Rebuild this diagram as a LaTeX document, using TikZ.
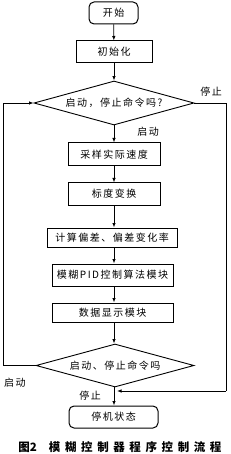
\documentclass[tikz,border=0pt]{standalone}
\usepackage{fontspec}
\setmainfont{Liberation Serif}
\newfontfamily\cjk[LetterSpace=15]{Noto Sans CJK SC}
\newfontfamily\capfont[LetterSpace=40]{Noto Sans CJK SC}
\newfontfamily\capfonttight{Noto Sans CJK SC}
\usetikzlibrary{shapes.geometric,arrows.meta}
\begin{document}
\begin{tikzpicture}[x=1pt,y=-1pt,
  every node/.style={font=\cjk\fontsize{10}{12}\selectfont, inner sep=0pt},
  box/.style={draw, line width=1pt, rectangle},
  rbox/.style={draw, line width=1pt, rectangle, rounded corners=5pt},
  dia/.style={draw, line width=0.9pt, diamond, aspect=3.6, inner sep=0pt},
  line/.style={line width=0.8pt},
  arr/.style={line width=0.8pt, -{Latex[length=4.5pt,width=3.5pt]}},
  lbl/.style={font=\cjk\fontsize{10}{12}\selectfont}]
\useasboundingbox (0,0) rectangle (230,454);
\node[rbox, minimum width=49pt, minimum height=22pt] (start) at (113.5,13) {开始};
\node[box, minimum width=76pt, minimum height=22pt] (init) at (114,52) {初始化};
\node[dia, minimum width=160pt, minimum height=44pt] (d1) at (114,103) {启动，停止命令吗?};
\node[box, minimum width=92pt, minimum height=23pt] (samp) at (114,154.5) {采样实际速度};
\node[box, minimum width=92pt, minimum height=22pt] (cal) at (114,194) {标度变换};
\node[box, minimum width=130pt, minimum height=19pt] (comp) at (112,237.5) {计算偏差、偏差变化率};
\node[box, minimum width=121pt, minimum height=22pt] (pid) at (112.5,275) {模糊PID控制算法模块};
\node[box, minimum width=121pt, minimum height=19pt] (data) at (112.5,312.5) {数据显示模块};
\node[dia, minimum width=158pt, minimum height=43pt] (d2) at (115,365.5) {启动、停止命令吗};
\node[rbox, minimum width=89pt, minimum height=22pt] (stop) at (113.5,417) {停机状态};
\node[font=\capfont\bfseries\fontsize{11.5}{13}\selectfont] (cap) at (120,447) {{\capfonttight\bfseries 图2}\hspace{12pt}模糊控制器程序控制流程};
\coordinate (r1) at (226,103);
\coordinate (r2) at (226,391);
\coordinate (j) at (114,391);
\coordinate (l1) at (3,365.5);
\coordinate (l2) at (3,103);
\draw[arr] (start) -- (init);
\draw[arr] (init) -- (d1);
\draw[arr] (d1.south) -- (samp);
\node[lbl] (ql1) at (148,132) {启动};
\draw[arr] (samp) -- (cal);
\draw[arr] (cal) -- (comp.north -| cal);
\draw[arr] (comp.south -| cal) -- (pid.north -| cal);
\draw[arr] (pid.south -| cal) -- (data.north -| cal);
\draw[arr] (data.south -| cal) -- (d2.north -| cal);
\draw[arr] (d2.south -| cal) -- (stop.north -| cal);
\node[lbl] (ql2) at (90,396) {停止};
\draw[line] (d1.east) -- (r1) -- (r2);
\draw[arr] (r2) -- ([xshift=3pt]j);
\node[lbl] (ql3) at (211,92) {停止};
\draw[line] (d2.west) -- (l1) -- (l2);
\draw[arr] (l2) -- (d1.west);
\node[lbl] (ql4) at (15,383) {启动};
\end{tikzpicture}
\end{document}
